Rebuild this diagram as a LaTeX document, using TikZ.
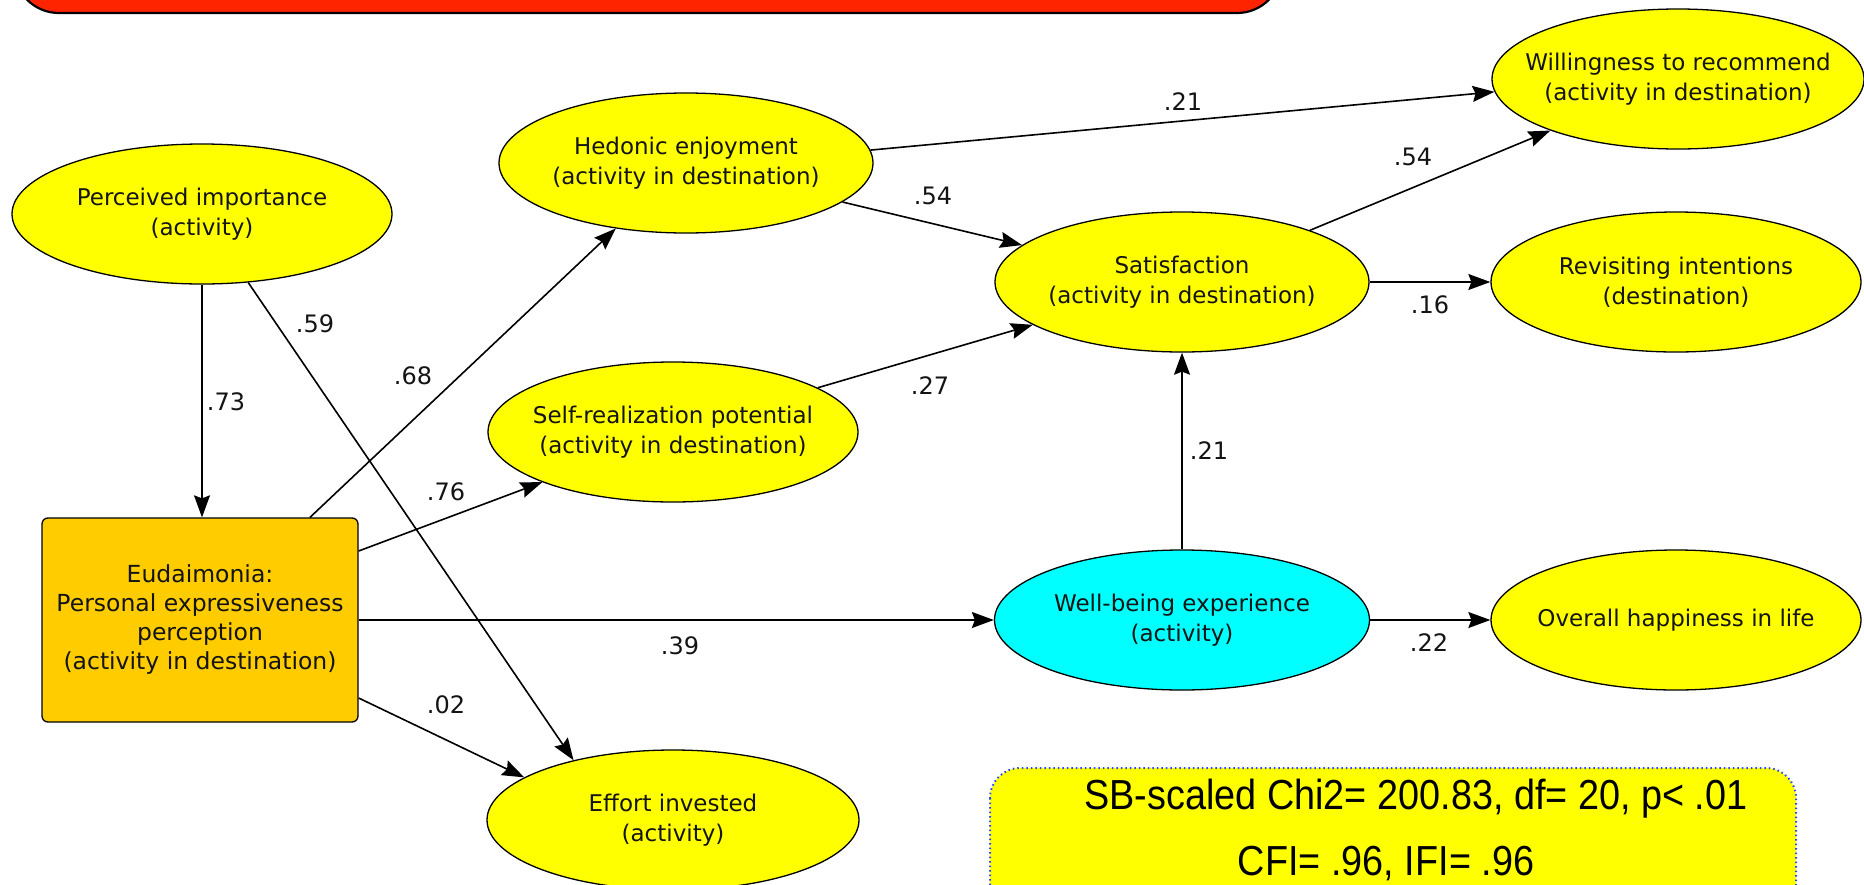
\documentclass[tikz,border=0pt]{standalone}
\usepackage{fontspec}
\setmainfont{DejaVu Sans}
\newfontfamily\statfont{Liberation Sans}
\usepackage{graphicx}
\usetikzlibrary{shapes.geometric,arrows.meta}
\definecolor{yfill}{RGB}{255,255,0}
\definecolor{ofill}{RGB}{255,204,0}
\definecolor{cfill}{RGB}{0,255,255}
\definecolor{bannerred}{RGB}{255,36,0}
\definecolor{dotblue}{RGB}{40,70,255}
\definecolor{ink}{RGB}{20,20,20}
\tikzset{
  ell/.style={ellipse, draw=black, line width=1.3pt, fill=yfill, minimum width=374pt, minimum height=140pt, inner sep=0pt},
  txt/.style={align=center, text=ink, inner sep=0pt, font=\fontsize{23pt}{30pt}\selectfont},
  lab/.style={text=ink, inner sep=0pt, font=\fontsize{24pt}{28pt}\selectfont},
  arr/.style={line width=1.6pt, draw=black, -{Stealth[length=22pt,width=16pt,inset=3pt]}},
  statline/.style={inner sep=0pt, text=black, font=\statfont\fontsize{42pt}{50pt}\selectfont},
}
\begin{document}
\begin{tikzpicture}[x=1pt,y=-1pt]
\useasboundingbox (0,0) rectangle (1864,884);
\clip (0,0) rectangle (1864,884);
\fill[white] (0,0) rectangle (1864,884);

% banner
\draw[fill=bannerred, line width=2.2pt, rounded corners=45pt] (14,-90) rectangle (1282,13);

% nodes
\node[ell, minimum width=380pt, label={[txt]center:{Perceived importance\\(activity)}}] (pi) at (202,214) {};
\node[ell, label={[txt]center:{Hedonic enjoyment\\(activity in destination)}}] (hed) at (686,163) {};
\node[ell, minimum width=370pt, label={[txt]center:{Self-realization potential\\(activity in destination)}}] (sr) at (673,432) {};
\node[ell, label={[txt]center:{Satisfaction\\(activity in destination)}}] (sat) at (1182,282) {};
\node[ell, minimum width=372pt, label={[txt]center:{Willingness to recommend\\(activity in destination)}}] (will) at (1678,79) {};
\node[ell, minimum width=370pt, label={[txt]center:{Revisiting intentions\\(destination)}}] (rev) at (1676,282) {};
\node[ell, fill=cfill, minimum width=375pt, label={[txt]center:{Well-being experience\\(activity)}}] (wb) at (1182,620) {};
\node[ell, minimum width=370pt, label={[txt]center:{Overall happiness in life}}] (oh) at (1676,620) {};
\node[ell, minimum width=372pt, label={[txt]center:{Effort invested\\(activity)}}] (eff) at (673,820) {};
\node[draw=black, line width=1.3pt, fill=ofill, rounded corners=6pt, minimum width=316pt, minimum height=204pt, inner sep=0pt, align=center, text=ink, font=\fontsize{23.5pt}{29pt}\selectfont] (eud) at (200,620) {Eudaimonia:\\Personal expressiveness\\perception\\(activity in destination)};

% connectors
\draw[arr] (pi.south) -- (pi.south |- eud.north);
\draw[arr] (pi.-56.5) -- (eff.149);
\draw[arr] ([xshift=110pt]eud.north) -- (hed.-137);
\draw[arr] ([yshift=69pt]eud.east) -- (sr.-159);
\draw[arr] (eud) -- (wb);
\draw[arr] ([yshift=-78pt]eud.east) -- (eff.164);
\draw[arr] (hed.4) -- (will.-176);
\draw[arr] (hed.-14) -- (sat.167);
\draw[arr] (sr.17) -- (sat.-164);
\draw[arr] (sat.22) -- (will.-158);
\draw[arr] (sat.east) -- (rev.west);
\draw[arr] (wb.north) -- (sat.south);
\draw[arr] (wb.east) -- (oh.west);

% path coefficients
\node[lab] (l73) at (226,402) {.73};
\node[lab] (l59) at (315,324) {.59};
\node[lab] (l68) at (413,376) {.68};
\node[lab] (l76) at (446,492) {.76};
\node[lab] (l39) at (680,646) {.39};
\node[lab] (l02) at (446,705) {.02};
\node[lab] (l54a) at (933,196) {.54};
\node[lab] (l21a) at (1183,102) {.21};
\node[lab] (l27) at (930,386) {.27};
\node[lab] (l54b) at (1413,157) {.54};
\node[lab] (l16) at (1430,305) {.16};
\node[lab] (l21b) at (1209,451) {.21};
\node[lab] (l22) at (1429,643) {.22};

% fit statistics box
\draw[fill=yfill, draw=dotblue, line width=2pt, dash pattern=on 1.5pt off 3pt, rounded corners=30pt] (990,768) rectangle (1796,940);
\node[statline] (fit1) at (1416,799) {\scalebox{0.9}[1]{SB-scaled Chi2= 200.83, df= 20, p< .01}};
\node[statline] (fit2) at (1386,864) {\scalebox{0.9}[1]{CFI= .96, IFI= .96}};
\end{tikzpicture}
\end{document}
